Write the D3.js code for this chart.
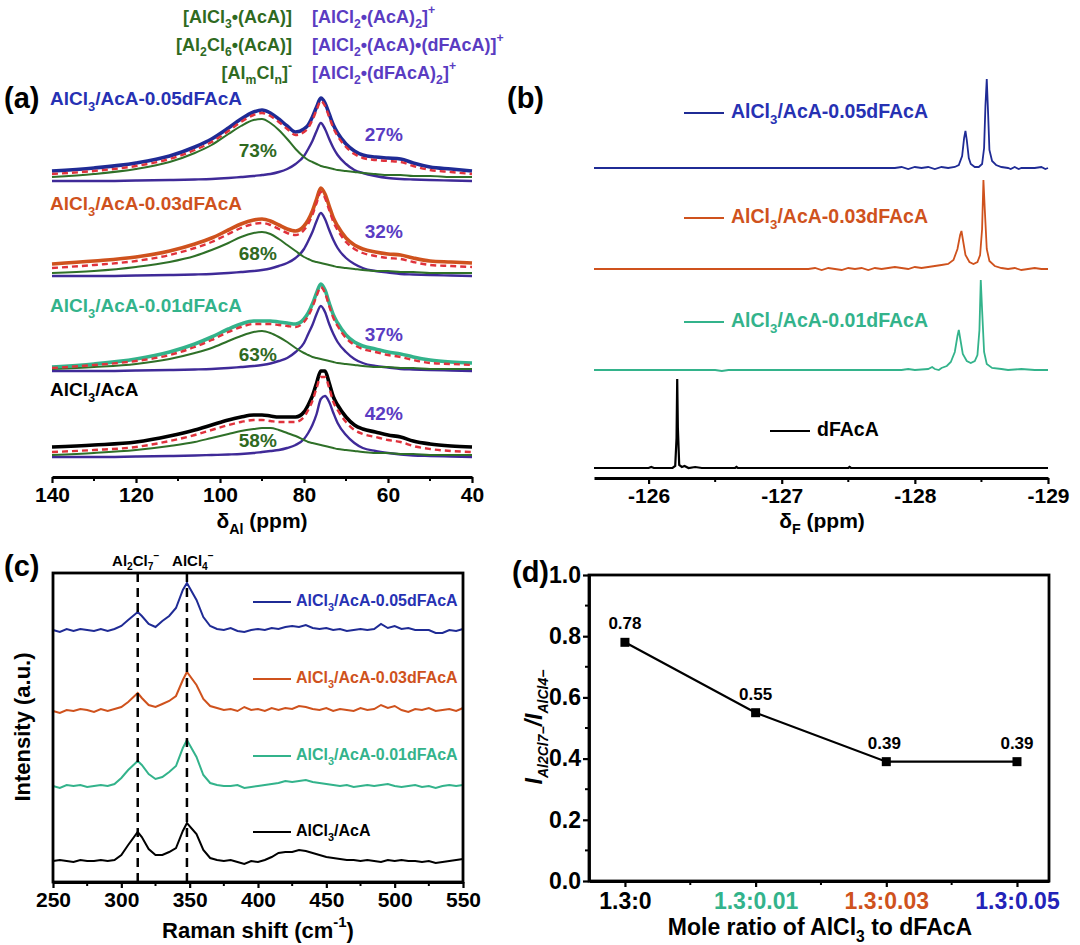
<!DOCTYPE html>
<html><head><meta charset="utf-8">
<script src="https://cdn.jsdelivr.net/npm/d3@7/dist/d3.min.js"></script>
<style>
body{margin:0;background:#fff}
svg{display:block}
text{font-family:"Liberation Sans",Arial,sans-serif;font-weight:bold}
</style>
</head><body>
<svg id="fig" width="1080" height="945"></svg>
<script>
// ================= DATA =================
const sampleNames = ["AlCl_{3}/AcA-0.05dFAcA","AlCl_{3}/AcA-0.03dFAcA","AlCl_{3}/AcA-0.01dFAcA","AlCl_{3}/AcA"];
// (a) 27Al NMR, chemical shift grid (ppm) and intensities (a.u.) above each baseline
const alShift = [140,130,120,112,106,102,98,95,92,90,88,86,84,82,80,79,78,77,76,75,74,73,72,70,68,66,63,60,57,54,50,45,40];
const alTotal005 = [10,13,18,25,34,42,53,62,69,71,68,62,55,49,52,56,64,74,83,78,67,56,48,37,30,26,24,23,22,18,14,12,10];
const alFit005   = [7,10,15,22,31,39,50,59,66,68,65,59,52,46,49,53,61,71,80,75,64,53,45,34,27,23,21,20,19,15,11,9,7];
const alGreen005 = [4,7,12,19,28,36,47,55,61,62,58,51,42,32,24,21,19,17,15,14,13,12,11,10,9,8,7,6,6,5,5,4,4];
const alPurple005= [0,0,0.5,1,1.5,2,3,4,5,6,7,9,12,17,25,32,40,50,58,52,42,33,26,17,11,8,5,3,2,1.5,1,0.5,0];
const alTotal003 = [12,15,19,25,32,38,46,52,56,57,55,51,47,45,50,56,65,77,88,82,70,58,50,38,31,27,24,22,21,18,15,14,13];
const alFit003   = [8,11,15,21,28,34,42,48,52,53,51,47,43,41,46,52,61,73,84,78,66,54,46,34,27,23,20,18,17,14,11,10,9];
const alGreen003 = [3,5,9,14,20,26,33,39,43,44,42,37,31,25,19,17,15,14,13,12,11,10,9,8,7,6,5,5,4,4,3,3,3];
const alPurple003= [0,0,0.5,1,1.5,2,3,4,5,6,7.5,10,13,18,27,35,44,55,63,57,46,36,28,18,12,8,5,3.5,2,1.5,1,0.5,0];
const alTotal001 = [4,7,12,19,27,34,42,47,50,50,50,49,48,47,52,58,67,78,87,81,68,56,48,36,29,25,22,19,17,14,11,9,8];
const alFit001   = [3,6,10,16,24,31,39,44,47,47,47,46,45,44,49,55,64,75,84,78,65,53,45,33,26,22,19,16,14,11,8,7,6];
const alGreen001 = [2,4,7,12,18,23,30,35,39,40,38,34,29,23,18,16,14,13,12,11,10,9,8,7,6,5,4,4,3,3,2,2,2];
const alPurple001= [0,0,0.5,1,1.5,2,3,4,5,6,7.5,10,13,19,28,37,46,57,65,59,47,37,29,19,12,8,5,3.5,2,1.5,1,0.5,0];
const alTotal000 = [10,12,15,21,27,32,37,40,42,42,41,40,40,40,45,52,61,74,86,86,74,60,52,40,32,28,25,22,20,16,13,11,10];
const alFit000   = [5,7,10,16,22,27,32,35,37,37,36,35,35,35,40,47,56,69,80,80,69,55,47,35,27,23,20,17,15,11,8,6,5];
const alGreen000 = [2,4,7,11,15,19,23,26,28,29,29,27,24,21,17,15,14,13,12,11,10,9,8,7,6,5,4,4,3,3,2,2,2];
const alPurple000= [0,0,0.5,1,1.5,2,2.5,3,4,5,6,7,9,12,18,24,32,43,58,61,55,44,34,22,14,9,6,4,2.5,1.5,1,0.5,0];
const alGreenPct  = ["73%","68%","63%","58%"];
const alPurplePct = ["27%","32%","37%","42%"];
const alTicks = [140,120,100,80,60,40];
const alMinor = [130,110,90,70,50];
const greenSpecies  = ["[AlCl_{3}•(AcA)]","[Al_{2}Cl_{6}•(AcA)]","[Al_{m}Cl_{n}]^{-}"];
const purpleSpecies = ["[AlCl_{2}•(AcA)_{2}]^{+}","[AlCl_{2}•(AcA)•(dFAcA)]^{+}","[AlCl_{2}•(dFAcA)_{2}]^{+}"];

// (b) 19F NMR  [ppm, intensity]
const fNames = ["AlCl_{3}/AcA-0.05dFAcA","AlCl_{3}/AcA-0.03dFAcA","AlCl_{3}/AcA-0.01dFAcA","dFAcA"];
const f005 = [[-125.59,0],[-127.6,0],[-127.85,0],[-127.9,1],[-127.95,-1],[-128.0,1],[-128.05,0],[-128.1,1],[-128.15,-1],[-128.2,1],[-128.25,0],[-128.3,1],[-128.33,3],[-128.355,12],[-128.37,30],[-128.38,37],[-128.39,28],[-128.405,10],[-128.42,4],[-128.45,1],[-128.48,1],[-128.505,4],[-128.52,20],[-128.53,62],[-128.54,89],[-128.55,55],[-128.56,18],[-128.58,7],[-128.61,3],[-128.65,1],[-128.7,0],[-128.72,-1],[-128.75,1],[-128.78,-1],[-128.8,0],[-128.9,0],[-128.95,1],[-128.98,-1],[-129,0]];
const f003 = [[-125.59,0],[-127.2,0],[-127.25,1],[-127.3,-1],[-127.35,1],[-127.4,0],[-127.45,-1],[-127.5,1],[-127.55,0],[-127.6,1],[-127.65,-1],[-127.7,1],[-127.75,0],[-127.8,1],[-127.85,2],[-127.9,1],[-127.95,0],[-128.0,2],[-128.05,1],[-128.1,2],[-128.15,3],[-128.2,4],[-128.25,5],[-128.29,9],[-128.32,20],[-128.34,34],[-128.35,38],[-128.36,30],[-128.38,14],[-128.41,7],[-128.44,5],[-128.47,7],[-128.49,14],[-128.505,40],[-128.515,89],[-128.525,60],[-128.54,20],[-128.56,8],[-128.6,3],[-128.65,1],[-128.7,0],[-128.75,1],[-128.8,-1],[-128.85,0],[-128.9,1],[-128.95,0],[-129,0]];
const f001 = [[-125.59,0],[-126.5,0],[-126.55,-1],[-126.6,0],[-127.6,0],[-127.9,0],[-127.95,1],[-128.0,0],[-128.1,1],[-128.13,3],[-128.15,1],[-128.18,0],[-128.2,2],[-128.24,4],[-128.27,8],[-128.3,18],[-128.32,34],[-128.33,40],[-128.34,32],[-128.36,16],[-128.39,9],[-128.42,7],[-128.45,9],[-128.47,15],[-128.485,40],[-128.495,90],[-128.505,60],[-128.52,18],[-128.54,6],[-128.58,2],[-128.65,1],[-128.7,0],[-128.8,1],[-128.9,0],[-129,0]];
const fPure = [[-125.59,0],[-126.0,0],[-126.02,1],[-126.04,0],[-126.18,0],[-126.2,2],[-126.21,30],[-126.215,89],[-126.22,40],[-126.23,3],[-126.25,1],[-126.27,2],[-126.3,0],[-126.35,1],[-126.4,0],[-126.65,0],[-126.66,1],[-126.67,0],[-127.5,0],[-127.51,1],[-127.52,0],[-129,0]];
const fTicks = [-126,-127,-128,-129];
const fMinor = [-126.5,-127.5,-128.5];

// (c) Raman
const ramanShift = [250,255,260,265,270,275,280,285,290,295,300,305,312,315,320,325,330,335,340,345,348,355,360,365,370,375,380,385,390,395,400,405,410,415,420,425,430,435,440,445,450,455,460,465,470,475,480,485,490,495,500,505,510,515,520,525,530,535,540,545,550];
const raman005 = [0,-2,1,-1,1,0,-1,1,-1,1,4,10,18,14,6,3,9,14,22,40,47,30,13,4,1,0,2,-1,-2,0,1,0,2,1,3,4,3,5,2,1,2,0,1,-1,0,1,0,1,6,2,4,1,2,0,0,0,-3,-3,0,-1,1];
const raman003 = [-1,-3,0,-1,1,0,-2,1,-1,1,3,8,17,12,5,3,6,9,14,30,38,25,11,4,2,0,1,-1,3,0,1,-1,2,0,2,1,4,3,1,0,2,-1,1,0,-1,2,0,1,5,2,4,0,-2,1,0,2,-1,0,1,-1,2];
const raman001 = [0,-2,1,0,1,-1,0,1,0,2,8,16,25,21,12,7,9,14,20,38,46,29,11,3,1,0,0,1,-2,-1,0,1,2,3,5,4,5,6,4,3,2,1,0,1,-1,0,1,0,1,2,0,-1,0,1,-1,0,-2,0,1,0,1];
const raman000 = [0,1,0,-1,1,0,0,1,0,1,6,16,29,24,12,6,6,9,13,30,38,27,11,3,1,0,1,-1,-3,0,-1,1,4,8,9,9,11,10,8,6,4,3,2,1,1,0,1,0,-1,1,0,1,0,0,-1,0,-2,-1,0,1,2];
const ramanTicks = [250,300,350,400,450,500,550];
const ramanMinor = [275,325,375,425,475,525];
const ramanBands = [312,348];
const ramanBandLabels = ["Al_{2}Cl_{7}^{−}","AlCl_{4}^{−}"];

// (d) ratio
const ratioCats = ["1.3:0","1.3:0.01","1.3:0.03","1.3:0.05"];
const ratioVals = [0.78,0.55,0.39,0.39];
const ratioTicks = [0,0.2,0.4,0.6,0.8,1.0];
const ratioMinor = [0.1,0.3,0.5,0.7,0.9];

// ================= STYLE =================
const C = {blue:"#1f2b95", blueT:"#2631b3", orange:"#cf521d", teal:"#33b38b", black:"#000",
  green:"#2f7028", greenT:"#2f6a1f", purple:"#3f2a98", purpleT:"#5a3cc2", red:"#e0323c"};
const sampleLineColors = [C.blue, C.orange, C.teal, C.black];
const sampleTextColors = [C.blueT, C.orange, C.teal, C.black];

const svg = d3.select("#fig");
svg.append("rect").attr("width",1080).attr("height",945).attr("fill","#fff");

function rich(sel, s, size){
  const re = /_\{([^}]*)\}|\^\{([^}]*)\}|([^_^]+)/g; let m;
  while((m = re.exec(s))){
    if(m[1]!==undefined) sel.append("tspan").attr("baseline-shift","sub").attr("font-size",size*0.68).text(m[1]);
    else if(m[2]!==undefined) sel.append("tspan").attr("baseline-shift","super").attr("font-size",size*0.68).text(m[2]);
    else sel.append("tspan").attr("font-size",size).text(m[3]);
  }
  return sel;
}
function label(x,y,s,size,color,anchor){
  const t = svg.append("text").attr("x",x).attr("y",y).attr("fill",color||"#000")
    .attr("font-size",size).attr("text-anchor",anchor||"start").attr("dominant-baseline","middle");
  return rich(t,s,size);
}
function panelLetter(x,y,s){
  svg.append("text").attr("x",x).attr("y",y).attr("font-family","'Liberation Serif','Times New Roman',serif")
    .attr("font-size",29).attr("font-weight","bold").text(s);
}
function styleAxis(g, w, fs){
  g.select(".domain").attr("stroke","#000").attr("stroke-width",w||3);
  g.selectAll(".tick line").attr("stroke","#000").attr("stroke-width",2.2);
  g.selectAll(".tick text").attr("font-size",fs||21).attr("font-weight","bold").attr("fill","#000")
   .attr("font-family","'Liberation Sans',Arial,sans-serif");
}

// ================= PANEL (a) =================
{
  const x = d3.scaleLinear().domain([140,40]).range([52,472]);
  const y = d3.scaleLinear().domain([0,400]).range([477,77]);
  const offsets = [296,201,106,20];
  const nameLift = [81,71,64,66];
  const gPctLift = [29,21,15,15];
  const pPctLift = [45,43,35,42];
  const sets = [
    [alTotal005,alFit005,alGreen005,alPurple005],
    [alTotal003,alFit003,alGreen003,alPurple003],
    [alTotal001,alFit001,alGreen001,alPurple001],
    [alTotal000,alFit000,alGreen000,alPurple000]];
  sets.forEach((s,i)=>{
    const off = offsets[i];
    const line = d3.line().x(d=>x(d[0])).y(d=>y(d[1]+off)).curve(d3.curveMonotoneX);
    const pts = arr => alShift.map((p,k)=>[p,arr[k]]);
    svg.append("path").attr("d",line(pts(s[3]))).attr("fill","none").attr("stroke",C.purple).attr("stroke-width",2.4);
    svg.append("path").attr("d",line(pts(s[2]))).attr("fill","none").attr("stroke",C.green).attr("stroke-width",2);
    svg.append("path").attr("d",line(pts(s[0]))).attr("fill","none").attr("stroke",sampleLineColors[i]).attr("stroke-width",3.6);
    svg.append("path").attr("d",line(pts(s[1]))).attr("fill","none").attr("stroke",C.red).attr("stroke-width",2.4).attr("stroke-dasharray","6,4");
    label(50, y(off+nameLift[i]), sampleNames[i], 19, sampleTextColors[i]);
    label(x(91), y(off+gPctLift[i]), alGreenPct[i], 19, C.greenT, "middle");
    label(x(61), y(off+pPctLift[i]), alPurplePct[i], 19, C.purpleT, "middle");
  });
  const ax = svg.append("g").attr("transform","translate(0,477)")
    .call(d3.axisBottom(x).tickValues(alTicks).tickSize(6).tickSizeOuter(0).tickPadding(4));
  styleAxis(ax);
  ax.selectAll(".minor").data(alMinor).enter().append("line").attr("x1",d=>x(d)).attr("x2",d=>x(d))
    .attr("y1",0).attr("y2",4).attr("stroke","#000").attr("stroke-width",2);
  label(262,522,"δ_{Al} (ppm)",21,"#000","middle");
  greenSpecies.forEach((s,i)=>label(292,18+i*28,s,18,C.greenT,"end"));
  purpleSpecies.forEach((s,i)=>label(312,18+i*28,s,18,C.purpleT,"start"));
  panelLetter(4,108,"(a)");
}

// ================= PANEL (b) =================
{
  const x = d3.scaleLinear().domain([-125.59,-129]).range([594,1048]);
  const y = d3.scaleLinear().domain([0,400]).range([478,78]);
  const offsets = [310,209,108,10];
  const sets = [f005,f003,f001,fPure];
  const legY = [113,218,322,431];
  const legX = [684,684,684,770];
  sets.forEach((s,i)=>{
    const off = offsets[i];
    const line = d3.line().x(d=>x(d[0])).y(d=>y(d[1]+off));
    svg.append("path").attr("d",line(s)).attr("fill","none").attr("stroke",sampleLineColors[i]).attr("stroke-width",i===3?2.2:1.8);
    svg.append("line").attr("x1",legX[i]).attr("x2",legX[i]+40).attr("y1",legY[i]).attr("y2",legY[i])
      .attr("stroke",sampleLineColors[i]).attr("stroke-width",2);
    label(legX[i]+47, legY[i], fNames[i], 19.5, sampleTextColors[i]);
  });
  const ax = svg.append("g").attr("transform","translate(0,478)")
    .call(d3.axisBottom(x).tickValues(fTicks).tickSize(6).tickSizeOuter(0).tickPadding(4).tickFormat(d3.format("d")));
  styleAxis(ax);
  ax.selectAll(".tick text").text(d=>"-"+Math.abs(d));
  ax.selectAll(".minor").data(fMinor).enter().append("line").attr("x1",d=>x(d)).attr("x2",d=>x(d))
    .attr("y1",0).attr("y2",4).attr("stroke","#000").attr("stroke-width",2);
  label(822,522,"δ_{F} (ppm)",21,"#000","middle");
  panelLetter(507,108,"(b)");
}

// ================= PANEL (c) =================
{
  const L=53,R=463,T=573,B=882;
  const x = d3.scaleLinear().domain([250,550]).range([L,R]);
  const y = d3.scaleLinear().domain([0,309]).range([B,T]);
  const offsets = [252,172,96,21];
  const sets = [raman005,raman003,raman001,raman000];
  sets.forEach((s,i)=>{
    const line = d3.line().x(d=>x(d[0])).y(d=>y(d[1]+offsets[i]));
    svg.append("path").attr("d",line(ramanShift.map((r,k)=>[r,s[k]]))).attr("fill","none")
      .attr("stroke",sampleLineColors[i]).attr("stroke-width",2);
  });
  ramanBands.forEach(b=>svg.append("line").attr("x1",x(b)).attr("x2",x(b)).attr("y1",T).attr("y2",B)
    .attr("stroke","#000").attr("stroke-width",2.5).attr("stroke-dasharray","9,6"));
  label(x(312)-2,562,ramanBandLabels[0],15,"#000","middle");
  label(x(348)+6,562,ramanBandLabels[1],15,"#000","middle");
  const legY=[602,679,756,832];
  sets.forEach((s,i)=>{
    svg.append("line").attr("x1",253).attr("x2",291).attr("y1",legY[i]).attr("y2",legY[i])
      .attr("stroke",sampleLineColors[i]).attr("stroke-width",2);
    label(296,legY[i],sampleNames[i],16,sampleTextColors[i]);
  });
  svg.append("rect").attr("x",L).attr("y",T).attr("width",R-L).attr("height",B-T)
    .attr("fill","none").attr("stroke","#000").attr("stroke-width",2.8);
  const ax = svg.append("g").attr("transform",`translate(0,${B})`)
    .call(d3.axisBottom(x).tickValues(ramanTicks).tickSize(6).tickSizeOuter(0).tickPadding(4));
  styleAxis(ax,2.8,21);
  ax.selectAll(".minor").data(ramanMinor).enter().append("line").attr("x1",d=>x(d)).attr("x2",d=>x(d))
    .attr("y1",0).attr("y2",4).attr("stroke","#000").attr("stroke-width",2);
  label(258,932,"Raman shift (cm^{-1})",22,"#000","middle");
  svg.append("text").attr("transform","translate(24,727) rotate(-90)").attr("text-anchor","middle")
    .attr("dominant-baseline","middle").attr("font-size",22).text("Intensity (a.u.)");
  panelLetter(4,576,"(c)");
}

// ================= PANEL (d) =================
{
  const L=589,R=1049,T=575,B=881;
  const x = d3.scaleLinear().domain([-0.275,3.245]).range([L,R]);
  const y = d3.scaleLinear().domain([0,1]).range([B,T]);
  svg.append("rect").attr("x",L).attr("y",T).attr("width",R-L).attr("height",B-T)
    .attr("fill","none").attr("stroke","#000").attr("stroke-width",2.8);
  const line = d3.line().x((d,i)=>x(i)).y(d=>y(d));
  svg.append("path").attr("d",line(ratioVals)).attr("fill","none").attr("stroke","#000").attr("stroke-width",2.2);
  svg.selectAll(".pt").data(ratioVals).enter().append("rect")
    .attr("x",(d,i)=>x(i)-4.5).attr("y",d=>y(d)-4.5).attr("width",9).attr("height",9).attr("fill","#000");
  ratioVals.forEach((v,i)=>label(x(i)+(i===2?-2:0), y(v)-17, v.toFixed(2), 17, "#000", "middle"));
  const ay = svg.append("g").attr("transform",`translate(${L},0)`)
    .call(d3.axisLeft(y).tickValues(ratioTicks).tickSize(6).tickSizeOuter(0).tickPadding(2).tickFormat(d3.format(".1f")));
  styleAxis(ay,2.8,23);
  ay.selectAll(".minor").data(ratioMinor).enter().append("line").attr("y1",d=>y(d)).attr("y2",d=>y(d))
    .attr("x1",0).attr("x2",-4).attr("stroke","#000").attr("stroke-width",2);
  const ax = svg.append("g").attr("transform",`translate(0,${B})`)
    .call(d3.axisBottom(x).tickValues([0,1,2,3]).tickSize(6).tickSizeOuter(0).tickPadding(6).tickFormat(i=>ratioCats[i]));
  styleAxis(ax,2.8,23);
  const catColors=[C.black,C.teal,C.orange,"#2323b8"];
  ax.selectAll(".tick text").attr("fill",(d,i)=>catColors[i]);
  ax.selectAll(".minor").data([0.5,1.5,2.5]).enter().append("line").attr("x1",d=>x(d)).attr("x2",d=>x(d))
    .attr("y1",0).attr("y2",4).attr("stroke","#000").attr("stroke-width",2);
  label(820,929,"Mole ratio of AlCl_{3} to dFAcA",23,"#000","middle");
  const yt = svg.append("text").attr("transform","translate(536,727) rotate(-90)").attr("text-anchor","middle")
    .attr("dominant-baseline","middle").attr("font-style","italic");
  yt.append("tspan").attr("font-size",23).text("I");
  yt.append("tspan").attr("font-size",14).attr("baseline-shift","sub").text("Al2Cl7−");
  yt.append("tspan").attr("font-size",23).text("/I");
  yt.append("tspan").attr("font-size",14).attr("baseline-shift","sub").text("AlCl4−");
  panelLetter(512,582,"(d)");
}
</script>
</body></html>
